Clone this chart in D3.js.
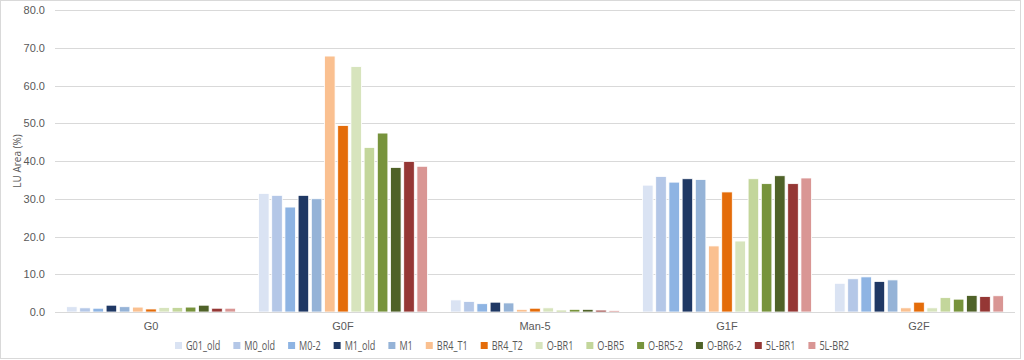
<!DOCTYPE html>
<html><head><meta charset="utf-8">
<script src="https://cdn.jsdelivr.net/npm/d3@7"></script>
<style>body{margin:0;background:#fff;}svg{display:block;font-family:"Open Sans","Noto Sans",sans-serif;}</style>
</head><body>
<svg id="c" width="1024" height="360"></svg>
<script>
const categories = ["G0","G0F","Man-5","G1F","G2F"];
const seriesNames = ["G01_old","M0_old","M0-2","M1_old","M1","BR4_T1","BR4_T2","O-BR1","O-BR5","O-BR5-2","O-BR6-2","5L-BR1","5L-BR2"];
const seriesColors = ["#dae3f3","#b4c7e7","#8eb4e3","#1f3864","#95b3d7","#fac090","#e46c0a","#d7e4bd","#c3d69b","#77933c","#4f6228","#953735","#d99694"];
// values per series: [G0, G0F, Man-5, G1F, G2F]
const vG01_old = [1.4, 31.4, 3.2, 33.6, 7.6];
const vM0_old  = [1.1, 30.9, 2.8, 35.9, 8.8];
const vM0_2    = [1.0, 27.8, 2.2, 34.4, 9.3];
const vM1_old  = [1.8, 30.9, 2.6, 35.3, 8.1];
const vM1      = [1.4, 30.0, 2.4, 35.1, 8.5];
const vBR4_T1  = [1.3, 67.8, 0.7, 17.5, 1.1];
const vBR4_T2  = [0.8, 49.4, 1.0, 31.8, 2.6];
const vO_BR1   = [1.2, 65.0, 1.1, 18.8, 1.1];
const vO_BR5   = [1.2, 43.6, 0.5, 35.3, 3.8];
const vO_BR5_2 = [1.3, 47.4, 0.7, 34.0, 3.4];
const vO_BR6_2 = [1.8, 38.3, 0.7, 36.1, 4.4];
const v5L_BR1  = [1.0, 39.9, 0.5, 34.0, 4.1];
const v5L_BR2  = [1.0, 38.6, 0.4, 35.5, 4.3];
const yTicks = [0,10,20,30,40,50,60,70,80];
const yTitle = "LU Area (%)";

const seriesValues = [vG01_old,vM0_old,vM0_2,vM1_old,vM1,vBR4_T1,vBR4_T2,vO_BR1,vO_BR5,vO_BR5_2,vO_BR6_2,v5L_BR1,v5L_BR2];

const svg = d3.select("#c");
const textColor = "#595959", gridColor = "#d9d9d9";
const L = 55, R = 1015, T = 10, B = 312;

svg.append("rect").attr("x",0.5).attr("y",0.5).attr("width",1020).attr("height",358)
  .attr("fill","none").attr("stroke","#d9d9d9");

const x0 = d3.scaleBand().domain(categories).range([L,R]);
const gw = x0.bandwidth();
const x1 = d3.scaleBand().domain(seriesNames).range([10.2, gw-10.2]).paddingInner(0.2).paddingOuter(0.1);
const y = d3.scaleLinear().domain([0,80]).range([B,T]);

// gridlines
svg.append("g").selectAll("line").data(yTicks).join("line")
  .attr("x1",L).attr("x2",R).attr("y1",d=>Math.round(y(d))+0.5).attr("y2",d=>Math.round(y(d))+0.5)
  .attr("stroke",gridColor).attr("stroke-width",1);

// y axis labels
const yAxis = d3.axisLeft(y).tickValues(yTicks).tickFormat(d3.format(".1f")).tickSize(0).tickPadding(10);
const ya = svg.append("g").attr("transform",`translate(${L},0)`).call(yAxis);
ya.select(".domain").remove();
ya.selectAll("text").attr("fill",textColor).style("font-size","11px");

svg.append("text").attr("transform",`translate(21,${(T+B)/2}) rotate(-90)`)
  .attr("text-anchor","middle").attr("fill",textColor).style("font-size","10px").text(yTitle);

// bars
const groups = svg.append("g").selectAll("g").data(seriesNames).join("g")
  .attr("fill",(d,i)=>seriesColors[i]);
groups.each(function(s,si){
  d3.select(this).selectAll("rect").data(categories).join("rect")
    .attr("x",(c)=>x0(c)+x1(s))
    .attr("width",x1.bandwidth())
    .attr("y",(c,ci)=>y(seriesValues[si][ci]))
    .attr("height",(c,ci)=>B - y(seriesValues[si][ci]))
    .attr("stroke","#ffffff").attr("stroke-width",0.8);
});

// x axis
const xAxis = d3.axisBottom(x0).tickSize(0).tickPadding(10);
const xa = svg.append("g").attr("transform",`translate(0,${B})`).call(xAxis);
xa.select(".domain").attr("stroke",gridColor).attr("d",`M${L},0.5H${R}`);
xa.selectAll("text").attr("fill",textColor).style("font-size","11px");

// legend
const sx = 0.76;
const leg = svg.append("g");
const items = leg.selectAll("g").data(seriesNames).join("g");
items.append("rect").attr("width",7).attr("height",7).attr("y",-4).attr("fill",(d,i)=>seriesColors[i]);
items.append("text").attr("transform",`translate(11,0) scale(${sx},1)`).attr("dy","0.35em").attr("fill",textColor)
  .style("font-size","12px").text(d=>d);
let cx = 0;
items.each(function(){
  const g = d3.select(this);
  const w = 11 + sx * g.select("text").node().getComputedTextLength();
  g.attr("transform",`translate(${cx},0)`);
  cx += w + 13;
});
const totalW = cx - 13;
leg.attr("transform",`translate(${512 - totalW/2},346)`);
</script>
</body></html>
